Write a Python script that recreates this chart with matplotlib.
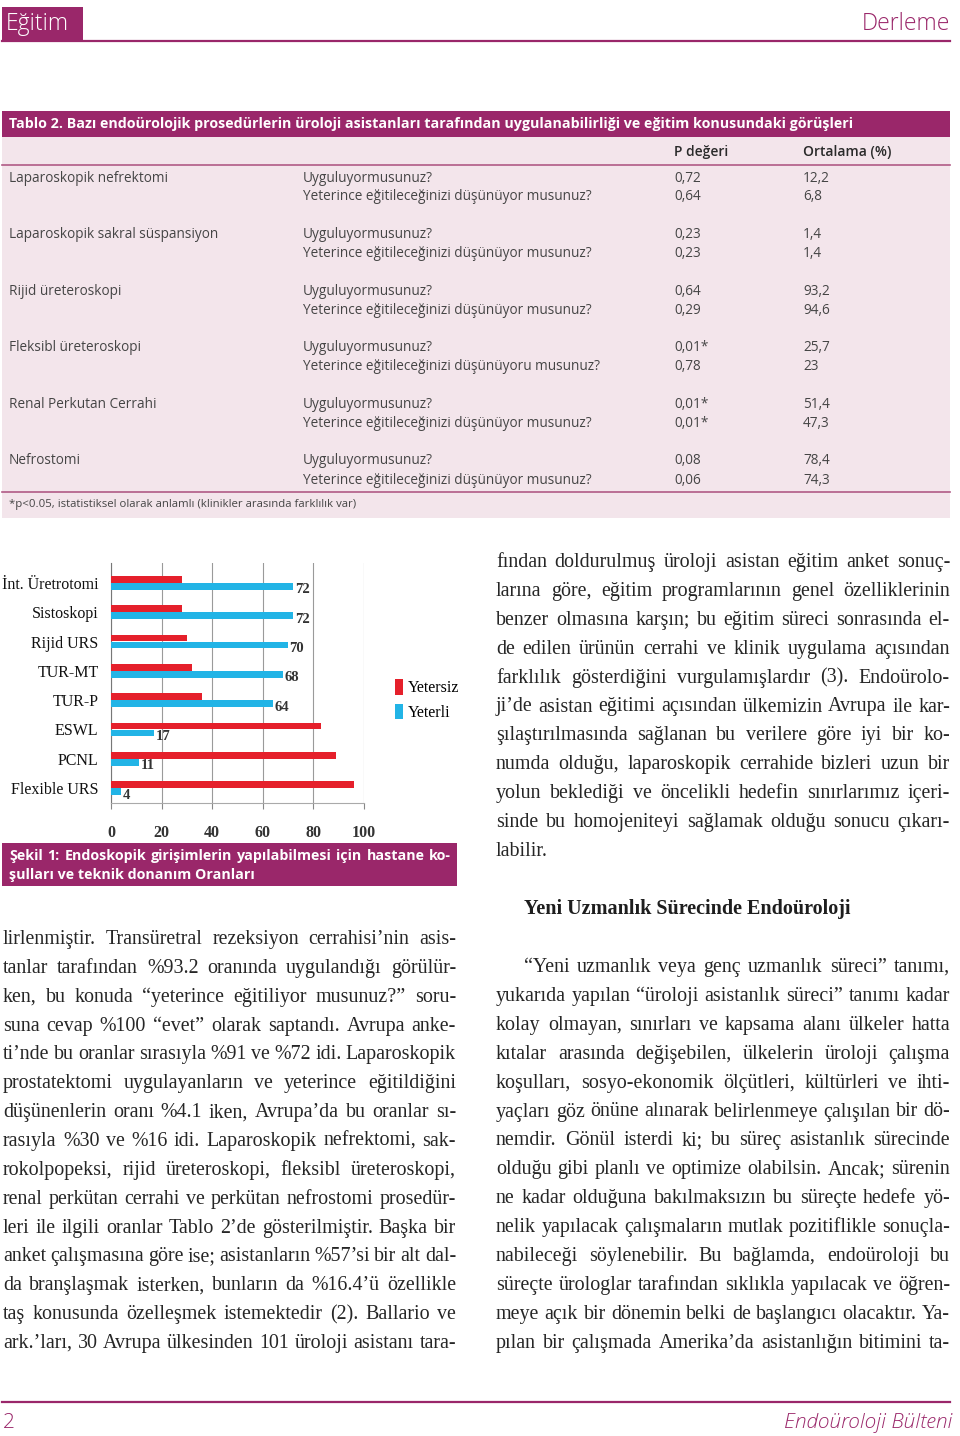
import matplotlib
matplotlib.use('Agg')
import matplotlib.pyplot as plt
import numpy as np
from matplotlib.patches import Rectangle
from matplotlib.font_manager import FontProperties

# ---- veri: grafik (Şekil 1) ----
kategoriler = ['İnt. Üretrotomi', 'Sistoskopi', 'Rijid URS', 'TUR-MT',
               'TUR-P', 'ESWL', 'PCNL', 'Flexible URS']
yeterli = [72, 72, 70, 68, 64, 17, 11, 4]
yetersiz = [28, 28, 30, 32, 36, 83, 89, 96]
x_ticks = [0, 20, 40, 60, 80, 100]

# ---- veri: Tablo 2 ----
prosedurler = ['Laparoskopik nefrektomi', 'Laparoskopik sakral süspansiyon',
               'Rijid üreteroskopi', 'Fleksibl üreteroskopi',
               'Renal Perkutan Cerrahi', 'Nefrostomi']
soru1 = 'Uyguluyormusunuz?'
soru2 = ['Yeterince eğitileceğinizi düşünüyor musunuz?'] * 6
soru2[3] = 'Yeterince eğitileceğinizi düşünüyoru musunuz?'
p_uygula = ['0,72', '0,23', '0,64', '0,01*', '0,01*', '0,08']
p_egitim = ['0,64', '0,23', '0,29', '0,78', '0,01*', '0,06']
ort_uygula = ['12,2', '1,4', '93,2', '25,7', '51,4', '78,4']
ort_egitim = ['6,8', '1,4', '94,6', '23', '47,3', '74,3']

# ---- metin ----
sol_sutun = [
    'lirlenmiştir. Transüretral rezeksiyon cerrahisi’nin asis-',
    'tanlar tarafından %93.2 oranında uygulandığı görülür-',
    'ken, bu konuda “yeterince eğitiliyor musunuz?” soru-',
    'suna cevap %100 “evet” olarak saptandı. Avrupa anke-',
    'ti’nde bu oranlar sırasıyla %91 ve %72 idi. Laparoskopik',
    'prostatektomi uygulayanların ve yeterince eğitildiğini',
    'düşünenlerin oranı %4.1 iken, Avrupa’da bu oranlar sı-',
    'rasıyla %30 ve %16 idi. Laparoskopik nefrektomi, sak-',
    'rokolpopeksi, rijid üreteroskopi, fleksibl üreteroskopi,',
    'renal perkütan cerrahi ve perkütan nefrostomi prosedür-',
    'leri ile ilgili oranlar Tablo 2’de gösterilmiştir. Başka bir',
    'anket çalışmasına göre ise; asistanların %57’si bir alt dal-',
    'da branşlaşmak isterken, bunların da %16.4’ü özellikle',
    'taş konusunda özelleşmek istemektedir (2). Ballario ve',
    'ark.’ları, 30 Avrupa ülkesinden 101 üroloji asistanı tara-',
]
sag_ust = [
    'fından doldurulmuş üroloji asistan eğitim anket sonuç-',
    'larına göre, eğitim programlarının genel özelliklerinin',
    'benzer olmasına karşın; bu eğitim süreci sonrasında el-',
    'de edilen ürünün cerrahi ve klinik uygulama açısından',
    'farklılık gösterdiğini vurgulamışlardır (3). Endoürolo-',
    'ji’de asistan eğitimi açısından ülkemizin Avrupa ile kar-',
    'şılaştırılmasında sağlanan bu verilere göre iyi bir ko-',
    'numda olduğu, laparoskopik cerrahide bizleri uzun bir',
    'yolun beklediği ve öncelikli hedefin sınırlarımız içeri-',
    'sinde bu homojeniteyi sağlamak olduğu sonucu çıkarı-',
    'labilir.',
]
sag_alt = [
    '“Yeni uzmanlık veya genç uzmanlık süreci” tanımı,',
    'yukarıda yapılan “üroloji asistanlık süreci” tanımı kadar',
    'kolay olmayan, sınırları ve kapsama alanı ülkeler hatta',
    'kıtalar arasında değişebilen, ülkelerin üroloji çalışma',
    'koşulları, sosyo-ekonomik ölçütleri, kültürleri ve ihti-',
    'yaçları göz önüne alınarak belirlenmeye çalışılan bir dö-',
    'nemdir. Gönül isterdi ki; bu süreç asistanlık sürecinde',
    'olduğu gibi planlı ve optimize olabilsin. Ancak; sürenin',
    'ne kadar olduğuna bakılmaksızın bu süreçte hedefe yö-',
    'nelik yapılacak çalışmaların mutlak pozitiflikle sonuçla-',
    'nabileceği söylenebilir. Bu bağlamda, endoüroloji bu',
    'süreçte ürologlar tarafından sıklıkla yapılacak ve öğren-',
    'meye açık bir dönemin belki de başlangıcı olacaktır. Ya-',
    'pılan bir çalışmada Amerika’da asistanlığın bitimini ta-',
]

MOR = '#9a276a'
PEMBE = '#f3e5eb'
KIRMIZI = '#e5202b'
MAVI = '#22b4e6'
GRI = '#454545'

fig = plt.figure(figsize=(9.6, 14.36), dpi=100)
ax = fig.add_axes([0, 0, 1, 1])
ax.set_xlim(0, 960)
ax.set_ylim(1436, 0)
ax.axis('off')
renderer = fig.canvas.get_renderer()


def kutu(x0, y0, x1, y1, renk):
    ax.add_patch(Rectangle((x0, y0), x1 - x0, y1 - y0, color=renk, lw=0))


def genislik(s, fp):
    w, h, d = renderer.get_text_width_height_descent(s, fp, ismath=False)
    return w


def satir(metin, x0, x1, y, fp, renk, iki_yana=True):
    kelimeler = metin.split()
    if not iki_yana or len(kelimeler) == 1:
        ax.text(x0, y, metin, fontproperties=fp, color=renk, va='baseline')
        return
    gw = [genislik(k, fp) for k in kelimeler]
    bosluk = (x1 - x0 - sum(gw)) / (len(kelimeler) - 1)
    x = x0
    for k, w in zip(kelimeler, gw):
        ax.text(x, y, k, fontproperties=fp, color=renk, va='baseline')
        x += w + bosluk


# ---- üst başlık ----
kutu(2, 7, 83, 40, MOR)
ax.plot([2, 950], [40.5, 40.5], color=MOR, lw=1.6)
baslik_fp = FontProperties(family='Open Sans', weight='light', size=16.5)
ax.text(6, 24, 'Eğitim', fontproperties=baslik_fp, color='white', va='center')
ax.text(950, 24, 'Derleme', fontproperties=baslik_fp, color=MOR, va='center', ha='right')

# ---- Tablo 2 ----
kutu(2, 111, 950, 137, MOR)
kutu(2, 137, 950, 518, PEMBE)
tb_fp = FontProperties(family='Open Sans', weight='bold', size=10.3)
ax.text(9, 124, 'Tablo 2. Bazı endoürolojik prosedürlerin üroloji asistanları tarafından '
        'uygulanabilirliği ve eğitim konusundaki görüşleri',
        fontproperties=tb_fp, color='white', va='center')
hd_fp = FontProperties(family='Open Sans', weight='semibold', size=10)
ax.text(674, 152, 'P değeri', fontproperties=hd_fp, color='#2a2a2a', va='center')
ax.text(803, 152, 'Ortalama (%)', fontproperties=hd_fp, color='#2a2a2a', va='center')
ax.plot([2, 950], [164.5, 164.5], color='#b05a86', lw=1.2)
ax.plot([2, 950], [491.5, 491.5], color='#b05a86', lw=1.2)
td_fp = FontProperties(family='Open Sans', weight='normal', size=9.8)
for i in range(len(prosedurler)):
    y1 = 178 + i * 56.6
    y2 = y1 + 19
    ax.text(9, y1, prosedurler[i], fontproperties=td_fp, color=GRI, va='center')
    ax.text(303, y1, soru1, fontproperties=td_fp, color=GRI, va='center')
    ax.text(303, y2, soru2[i], fontproperties=td_fp, color=GRI, va='center')
    ax.text(674, y1, p_uygula[i], fontproperties=td_fp, color=GRI, va='center')
    ax.text(674, y2, p_egitim[i], fontproperties=td_fp, color=GRI, va='center')
    ax.text(803, y1, ort_uygula[i], fontproperties=td_fp, color=GRI, va='center')
    ax.text(803, y2, ort_egitim[i], fontproperties=td_fp, color=GRI, va='center')
fn_fp = FontProperties(family='Open Sans', weight='normal', size=8.2)
ax.text(9, 504, '*p<0.05, istatistiksel olarak anlamlı (klinikler arasında farklılık var)',
        fontproperties=fn_fp, color=GRI, va='center')

# ---- Şekil 1 grafik ----
cax = fig.add_axes([111 / 960, 1 - 803 / 1436, (364 - 111) / 960, (803 - 563) / 1436])
idx = np.arange(len(kategoriler))
cax.barh(idx - 0.12, yetersiz, height=0.23, color=KIRMIZI, label='Yetersiz', zorder=3)
cax.barh(idx + 0.12, yeterli, height=0.23, color=MAVI, label='Yeterli', zorder=3)
for i, v in enumerate(yeterli):
    cax.text(v + 0.6, idx[i] + 0.24, str(v), fontsize=10.5, family='Liberation Serif',
             weight='bold', color='#333333', va='center')
cax.set_xlim(0, 100)
cax.set_ylim(7.51, -0.68)
cax.set_xticks(x_ticks)
cax.set_xticklabels([str(t) for t in x_ticks], family='Liberation Serif',
                    weight='bold', fontsize=11.5, color='#333333')
cax.set_yticks(idx)
cax.set_yticklabels(kategoriler, family='Liberation Serif', fontsize=11.5, color='#111111')
cax.tick_params(axis='y', length=0, pad=9)
cax.tick_params(axis='x', length=4, pad=12, color='#888888')
cax.grid(axis='x', color='#9a9a9a', lw=0.8, zorder=0)
for s in ['top', 'right']:
    cax.spines[s].set_visible(False)
cax.spines['left'].set_color('#777777')
cax.spines['bottom'].set_color('#aaaaaa')
cax.legend(loc='upper left', bbox_to_anchor=(381 / 960, 1 - 665 / 1436),
           bbox_transform=fig.transFigure, frameon=False, handlelength=0.5,
           handleheight=1.1, handletextpad=0.3, labelspacing=0.45,
           prop=FontProperties(family='Liberation Serif', size=11.5))

# ---- şekil altyazısı ----
kutu(2, 843, 457, 886, MOR)
cap_fp = FontProperties(family='Open Sans', weight='bold', size=10.3)
satir('Şekil 1: Endoskopik girişimlerin yapılabilmesi için hastane ko-', 9, 451, 860,
      cap_fp, 'white')
satir('şulları ve teknik donanım Oranları', 9, 451, 879, cap_fp, 'white', iki_yana=False)

# ---- gövde metni ----
govde_fp = FontProperties(family='Liberation Serif', size=14.4)
kalin_fp = FontProperties(family='Liberation Serif', weight='bold', size=14.5)
for i, s in enumerate(sol_sutun):
    satir(s, 3, 456, 944 + i * 28.86, govde_fp, '#262626')
for i, s in enumerate(sag_ust):
    satir(s, 496, 950, 567 + i * 28.9, govde_fp, '#262626', iki_yana=(i < len(sag_ust) - 1))
ax.text(524, 914, 'Yeni Uzmanlık Sürecinde Endoüroloji', fontproperties=kalin_fp,
        color='#1e1e1e', va='baseline')
for i, s in enumerate(sag_alt):
    satir(s, 524 if i == 0 else 496, 950, 972 + i * 28.9, govde_fp, '#262626')

# ---- alt bilgi ----
ax.plot([2, 950], [1402, 1402], color=MOR, lw=1.6)
alt_fp = FontProperties(family='Open Sans', weight='light', size=15)
ax.text(3, 1423, '2', fontproperties=alt_fp, color=MOR, va='center')
ax.text(952, 1423, 'Endoüroloji Bülteni',
        fontproperties=FontProperties(family='Open Sans', weight='light', style='italic', size=15),
        color=MOR, va='center', ha='right')

fig.savefig('out.png', dpi=100)
